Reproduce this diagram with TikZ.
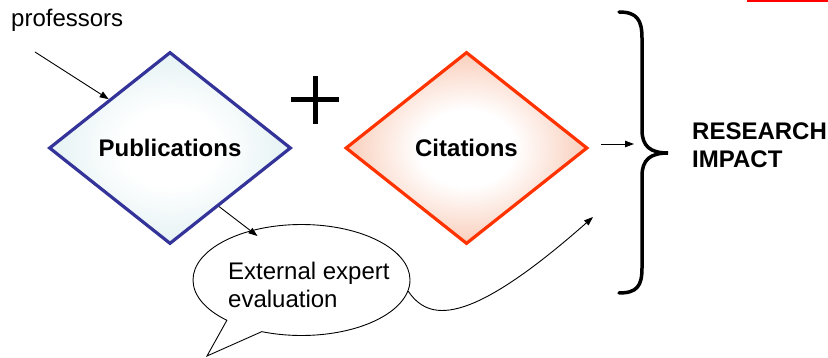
\documentclass[tikz,border=0pt]{standalone}
\usepackage{fontspec}
\setmainfont{Liberation Sans}
\usetikzlibrary{shapes.geometric,shapes.callouts,arrows.meta,calc}

\definecolor{pubedge}{HTML}{333399}
\definecolor{pubtint}{HTML}{C2E1E5}
\definecolor{citedge}{HTML}{FF3300}
\definecolor{cittint}{HTML}{F28E62}

% soft fills for the two diamonds: white core fading to a tint at the rim
\pgfdeclareradialshading{pubfill}{\pgfpoint{0bp}{0bp}}{color(0bp)=(white); color(10bp)=(white); color(45bp)=(pubtint); color(50bp)=(pubtint)}
\pgfdeclareradialshading{citfill}{\pgfpoint{0bp}{0bp}}{color(0bp)=(white); color(10bp)=(white); color(45bp)=(cittint); color(50bp)=(cittint)}

\begin{document}
\begin{tikzpicture}[x=1pt,y=-1pt,
  diam/.style={diamond, inner sep=0pt, minimum width=242pt, minimum height=192pt,
    line width=3.2pt, font=\fontsize{24}{28}\selectfont\bfseries},
  conn/.style={line width=0.9pt, -{Triangle[length=9pt,width=6.5pt]}},
  lbl/.style={font=\fontsize{24}{28}\selectfont, inner sep=0pt, align=left},
]
\useasboundingbox (0,0) rectangle (828,358);

% red rule at the top right
\draw[red, line width=2pt] (747,1) -- (828,1);

% the two measures
\node[diam, draw=pubedge, shading=pubfill] (pub) at (170,148) {Publications};
\node[diam, draw=citedge, shading=citfill] (cit) at (466.5,148) {Citations};

% plus sign between them
\draw[line width=5pt] (291,100) -- (339,100);
\draw[line width=5pt] (315,76) -- (315,124);

% input label
\node[lbl, anchor=base west] (prof) at (11,27) {professors};
\coordinate (profstart) at (35,52);
\draw[conn] (profstart) -- (pub.north west);

% speech bubble for the expert evaluation
\node[ellipse callout, draw, line width=0.9pt, fill=white, inner sep=0pt,
      minimum width=217pt, minimum height=111pt,
      callout absolute pointer={(207,356)}, callout pointer arc=22] (call) at (301.5,280) {};
\node[lbl, anchor=west] (calltext) at (228,285.2) {External expert\\evaluation};

\draw[conn] ($(pub.south)!0.4!(pub.east)$) -- ($(call.center)+(-44,-44)$);

% curved connector from the bubble towards the brace
\coordinate (curveend) at (593,217);
\draw[conn] (call.-6) .. controls (428,320) and (465,330) .. (curveend);

% short arrow from citations towards the brace
\coordinate (citout) at (601,144);
\coordinate (citin) at (634,144);
\draw[conn] (citout) -- (citin);

% curly brace gathering everything
\draw[line width=3.5pt, line cap=round]
  (619,12) .. controls (637,12) and (642,20) .. (642,38)
  -- (642,130) .. controls (642,146) and (650,153) .. (668,153)
  .. controls (650,153) and (642,160) .. (642,176)
  -- (642,268) .. controls (642,286) and (637,293) .. (619,293);

% result label
\node[lbl, font=\fontsize{24}{28}\selectfont\bfseries, anchor=west] (impact) at (692,145.4) {RESEARCH\\IMPACT};
\end{tikzpicture}
\end{document}
